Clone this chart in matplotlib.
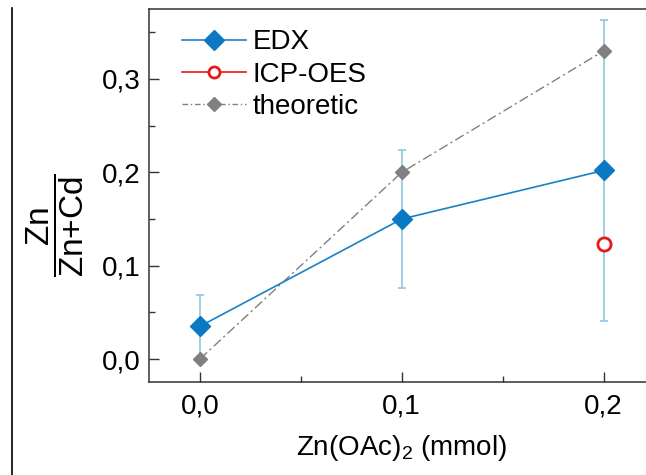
import matplotlib
matplotlib.use('Agg')
import matplotlib.pyplot as plt
from matplotlib.lines import Line2D
from matplotlib.ticker import FuncFormatter, MultipleLocator

plt.rcParams['font.family'] = ['Liberation Sans', 'DejaVu Sans']
plt.rcParams['mathtext.fontset'] = 'custom'
plt.rcParams['mathtext.rm'] = 'Liberation Sans'
plt.rcParams['mathtext.it'] = 'Liberation Sans:italic'

# data
zn_oac = [0.0, 0.1, 0.2]
edx = [0.035, 0.150, 0.202]
edx_err = [0.034, 0.074, 0.161]
icp_x = [0.2]
icp = [0.123]
theoretic = [0.0, 0.2, 0.33]

fig = plt.figure(figsize=(6.46, 4.75), dpi=100)
ax = fig.add_axes([0.2307, 0.1958, 0.7817, 0.7853])

ax.errorbar(zn_oac, edx, yerr=edx_err, fmt='none', ecolor='#8fc7df',
            elinewidth=1.2, capsize=3, capthick=1.2, zorder=2)
ax.plot(zn_oac, theoretic, color='#808080', lw=1, dashes=(7, 2.5, 1.5, 2.5),
        marker='D', ms=7.5, mfc='#808080', mec='#808080', label='theoretic', zorder=3)
ax.plot(zn_oac, edx, color='#1a82c4', lw=1.2, marker='D', ms=10.5,
        mfc='#0a78c2', mec='#0a78c2', label='EDX', zorder=4)
ax.plot(icp_x, icp, color='#e8191b', lw=1.2, marker='o', ms=9.5, mfc='white',
        mec='#e8191b', mew=2, linestyle='none', zorder=5)

handles = [
    Line2D([], [], color='#1a82c4', lw=1.2, marker='D', ms=10.5, mfc='#0a78c2', mec='#0a78c2'),
    Line2D([], [], color='#e8191b', lw=1.2, marker='o', ms=8, mfc='white', mec='#e8191b', mew=2),
    Line2D([], [], color='#808080', lw=1, dashes=(4, 2, 1, 2), marker='D', ms=7.5,
           mfc='#808080', mec='#808080'),
]
ax.legend(handles, ['EDX', 'ICP-OES', 'theoretic'], loc='upper left', frameon=False,
          fontsize=20, handlelength=2.3, handletextpad=0.25, labelspacing=0.22,
          borderaxespad=0, bbox_to_anchor=(0.0436, 0.975))

ax.set_xlim(-0.0252, 0.225)
ax.set_ylim(-0.0246, 0.375)
ax.xaxis.set_major_locator(MultipleLocator(0.1))
ax.xaxis.set_minor_locator(MultipleLocator(0.05))
ax.yaxis.set_major_locator(MultipleLocator(0.1))
ax.yaxis.set_minor_locator(MultipleLocator(0.05))
comma = FuncFormatter(lambda v, p: ('%.1f' % v).replace('.', ','))
ax.xaxis.set_major_formatter(comma)
ax.yaxis.set_major_formatter(comma)
ax.tick_params(which='both', direction='in', labelsize=20, width=1, color='#333333')
ax.tick_params(which='major', length=7)
ax.tick_params(which='minor', length=4)
ax.tick_params(axis='x', pad=8)
ax.tick_params(axis='y', pad=6)
for s in ax.spines.values():
    s.set_linewidth(1.1)
    s.set_color('#333333')

ax.set_xlabel('Zn(OAc)$_2$ (mmol)', fontsize=20, labelpad=10)
ax.text(-0.186, 0.42, r'$\dfrac{\mathrm{Zn}}{\mathrm{Zn{+}Cd}}$', fontsize=24,
        rotation=90, ha='center', va='center', transform=ax.transAxes)

fig.add_artist(Line2D([12 / 646, 12 / 646], [0, 467 / 475], color='black', lw=1.2))

fig.savefig('out.png', dpi=100)
plt.close('all')
